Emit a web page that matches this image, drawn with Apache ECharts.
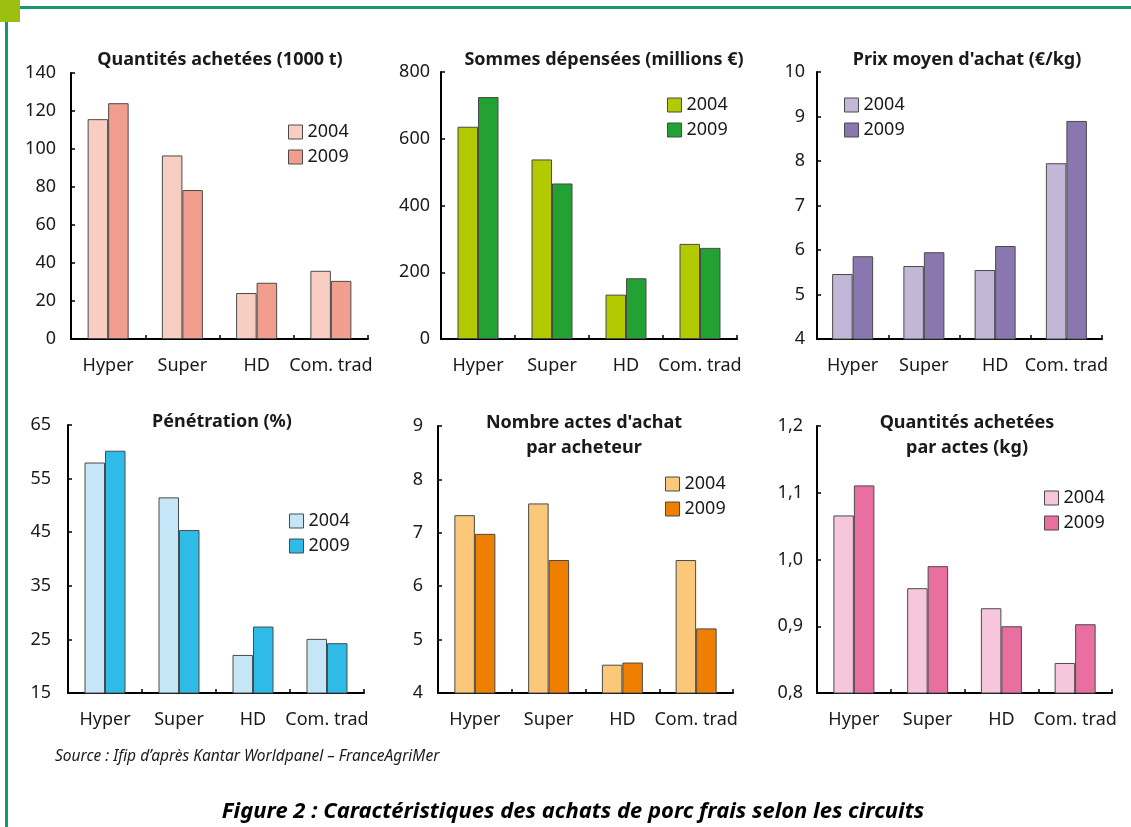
<!DOCTYPE html>
<html><head><meta charset="utf-8">
<script src="https://cdn.jsdelivr.net/npm/echarts@6/dist/echarts.min.js"></script>
<style>html,body{margin:0;padding:0;background:#fff}#c{width:1131px;height:827px}</style>
</head><body><div id="c"></div>
<script>
const categories = ['Hyper', 'Super', 'HD', 'Com. trad'];
const years = ['2004', '2009'];
const qty2004 = [115.7, 96.6, 24.2, 35.9];
const qty2009 = [124.1, 78.4, 29.6, 30.6];
const spend2004 = [636, 538, 133, 285];
const spend2009 = [725, 466, 182, 273];
const price2004 = [5.46, 5.64, 5.55, 7.95];
const price2009 = [5.86, 5.95, 6.09, 8.90];
const pen2004 = [58.0, 51.5, 22.1, 25.1];
const pen2009 = [60.2, 45.4, 27.4, 24.3];
const acts2004 = [7.33, 7.55, 4.53, 6.49];
const acts2009 = [6.98, 6.49, 4.57, 5.21];
const qpa2004 = [1.066, 0.957, 0.927, 0.845];
const qpa2009 = [1.111, 0.990, 0.900, 0.903];
const titles = ['Quantités achetées (1000 t)', 'Sommes dépensées (millions €)', "Prix moyen d'achat (€/kg)",
  'Pénétration (%)', "Nombre actes d'achat\npar acheteur", 'Quantités achetées\npar actes (kg)'];
const sourceText = 'Source : Ifip d’après Kantar Worldpanel – FranceAgriMer';
const figureText = 'Figure 2 : Caractéristiques des achats de porc frais selon les circuits';

const FONT = 'Noto Sans';
const panels = [
  {d: [qty2004, qty2009], min: 0, max: 140, interval: 20, colors: ['#F8CEC2', '#F29E8E'],
   grid: {left: 71, top: 73, width: 297, height: 266}, ym: 15, title: [215, 42], legend: [283, 118]},
  {d: [spend2004, spend2009], min: 0, max: 800, interval: 200, colors: ['#B3C900', '#22A233'],
   grid: {left: 441, top: 72, width: 296, height: 267}, ym: 11, title: [599, 42], legend: [662, 91]},
  {d: [price2004, price2009], min: 4, max: 10, interval: 1, colors: ['#C3B7D7', '#8B77AF'],
   grid: {left: 817, top: 72, width: 285, height: 267}, ym: 12, title: [962, 42], legend: [839, 91]},
  {d: [pen2004, pen2009], min: 15, max: 65, interval: 10, colors: ['#C4E6F6', '#2EBBE8'],
   grid: {left: 68, top: 425, width: 296, height: 268}, ym: 17, title: [217, 404], legend: [284, 507]},
  {d: [acts2004, acts2009], min: 4, max: 9, interval: 1, colors: ['#FAC878', '#EE7F00'],
   grid: {left: 438, top: 426, width: 295, height: 267}, ym: 15, title: [579, 405], legend: [660, 470]},
  {d: [qpa2004, qpa2009], min: 0.8, max: 1.2, interval: 0.1, colors: ['#F6C6DC', '#E96FA1'],
   grid: {left: 817, top: 426, width: 295, height: 267}, ym: 14, title: [962, 405], legend: [1039, 484], comma: true}
];

const option = {
  animation: false,
  textStyle: {fontFamily: FONT},
  grid: [], xAxis: [], yAxis: [], series: [], title: [], legend: [],
  graphic: []
};
panels.forEach((p, i) => {
  option.grid.push(p.grid);
  option.xAxis.push({
    type: 'category', gridIndex: i, data: categories,
    axisLine: {lineStyle: {color: '#000', width: 2}},
    axisTick: {show: true, inside: true, length: 4, lineStyle: {color: '#000', width: 1.5}},
    axisLabel: {fontSize: 18, color: '#1a1a1a', margin: 18, fontFamily: FONT, interval: 0}
  });
  option.yAxis.push({
    type: 'value', gridIndex: i, min: p.min, max: p.max, interval: p.interval,
    splitLine: {show: false},
    axisLine: {show: true, lineStyle: {color: '#000', width: 2}},
    axisTick: {show: true, inside: true, length: 4, lineStyle: {color: '#000', width: 1.5}},
    axisLabel: {fontSize: 18, color: '#1a1a1a', margin: p.ym, fontFamily: FONT,
      formatter: p.comma ? (v => v.toFixed(1).replace('.', ',')) : (v => String(Math.round(v)))}
  });
  years.forEach((y, k) => {
    option.series.push({
      type: 'bar', name: y, xAxisIndex: i, yAxisIndex: i, data: p.d[k],
      barWidth: 20.5, barGap: '0%',
      itemStyle: {color: p.colors[k], borderColor: '#4a4a4a', borderWidth: 1}
    });
  });
  option.title.push({
    text: titles[i], left: p.title[0], top: p.title[1], textAlign: 'center',
    textStyle: {fontSize: 18, fontWeight: 'bold', color: '#1a1a1a', fontFamily: FONT, lineHeight: 25}
  });
  option.legend.push({
    left: p.legend[0], top: p.legend[1], orient: 'vertical', itemGap: 7,
    itemWidth: 14, itemHeight: 14, selectedMode: false,
    textStyle: {fontSize: 18, color: '#1a1a1a', fontFamily: FONT, padding: [0, 0, 0, 0]},
    data: years.map((y, k) => ({name: y, icon: 'rect',
      itemStyle: {color: p.colors[k], borderColor: '#4a4a4a', borderWidth: 1}}))
  });
});
option.graphic = [
  {type: 'rect', shape: {x: 0, y: 0, width: 20, height: 22}, style: {fill: '#9DBF0F'}, silent: true},
  {type: 'rect', shape: {x: 20, y: 6, width: 1111, height: 3}, style: {fill: '#15996B'}, silent: true},
  {type: 'rect', shape: {x: 5, y: 22, width: 3, height: 805}, style: {fill: '#15996B'}, silent: true},
  {type: 'text', x: 55, y: 757, style: {text: sourceText, fontSize: 15.5, fontStyle: 'italic',
    fontFamily: FONT, fill: '#1a1a1a', verticalAlign: 'middle'}},
  {type: 'text', x: 573, y: 812, style: {text: figureText, fontSize: 22, fontStyle: 'italic', fontWeight: 'bold',
    fontFamily: FONT, fill: '#000', align: 'center', verticalAlign: 'middle'}}
];
const chart = echarts.init(document.getElementById('c'), null, {renderer: 'canvas'});
chart.setOption(option);
</script></body></html>
